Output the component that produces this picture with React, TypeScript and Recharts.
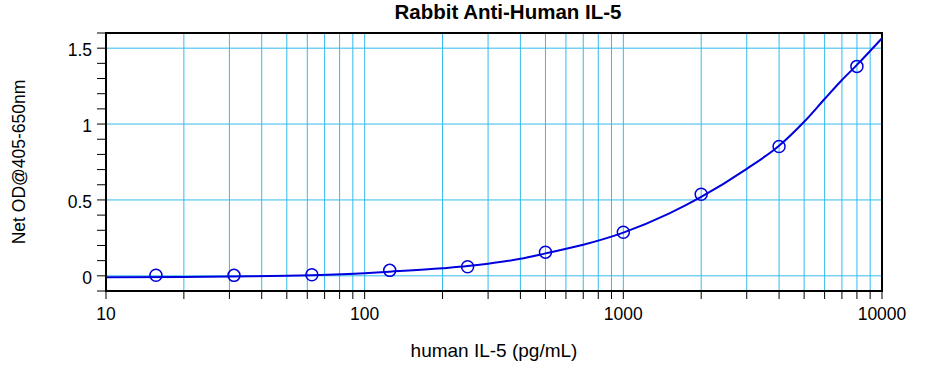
import React from 'react';
import {
  ComposedChart, Line, Scatter, XAxis, YAxis, CartesianGrid, ReferenceArea, Label,
} from 'recharts';

const title = 'Rabbit Anti-Human IL-5';
const xLabel = 'human IL-5 (pg/mL)';
const yLabel = 'Net OD@405-650nm';

const standardConc = [15.6, 31.25, 62.5, 125, 250, 500, 1000, 2000, 4000, 8000];
const standardOD = [0.004, 0.003, 0.007, 0.036, 0.06, 0.156, 0.287, 0.537, 0.852, 1.38];

const curveConc = [10, 20, 30, 50, 62.5, 100, 125, 200, 250, 300, 400, 500, 700, 1000, 1500, 2000, 3000, 4000, 5000, 6000, 7000, 8000, 10000];
const curveOD = [-0.01, -0.008, -0.005, 0.0, 0.004, 0.017, 0.027, 0.05, 0.064, 0.08, 0.112, 0.148, 0.205, 0.285, 0.41, 0.52, 0.705, 0.857, 1.015, 1.165, 1.29, 1.39, 1.566];

const xTicks = [10, 20, 30, 40, 50, 60, 70, 80, 90, 100, 200, 300, 400, 500, 600, 700, 800, 900, 1000, 2000, 3000, 4000, 5000, 6000, 7000, 8000, 9000, 10000];
const xMajor = [10, 100, 1000, 10000];
const yTicks = [-0.1, 0, 0.1, 0.2, 0.3, 0.4, 0.5, 0.6, 0.7, 0.8, 0.9, 1, 1.1, 1.2, 1.3, 1.4, 1.5, 1.6];
const yMajor = [0, 0.5, 1, 1.5];

const points = standardConc.map((x, i) => ({ x, y: standardOD[i] }));
const curve = curveConc.map((x, i) => ({ x, y: curveOD[i] }));

const GRID = '#33bbee';
const BLUE = '#0000dd';
const FONT = 'Liberation Sans, Arial, sans-serif';

const XTick = (props: any) => {
  const { x, y, payload } = props;
  if (!xMajor.includes(payload.value)) return null;
  return (
    <text x={x} y={y + 19} textAnchor="middle" fontSize={17.5} fontFamily={FONT} fill="#000">
      {payload.value}
    </text>
  );
};

const YTick = (props: any) => {
  const { x, y, payload } = props;
  const v = payload.value;
  if (!yMajor.some((m) => Math.abs(m - v) < 1e-6)) return null;
  return (
    <text x={x - 3} y={y + 8} textAnchor="end" fontSize={17.5} fontFamily={FONT} fill="#000">
      {String(v)}
    </text>
  );
};

export default function App() {
  return (
    <div style={{ position: 'absolute', left: 0, top: 0, width: 926, height: 366, background: '#fff' }}>
      <div style={{ position: 'absolute', left: 0, top: 0, width: 1016, textAlign: 'center', fontFamily: FONT, fontWeight: 'bold', fontSize: 20.5, lineHeight: '24px' }}>
        {title}
      </div>
      <ComposedChart width={926} height={366} margin={{ top: 33, right: 44, bottom: 0, left: 0 }}>
        <CartesianGrid stroke={GRID} strokeWidth={1} horizontal={false} yAxisId="major" />
        <CartesianGrid stroke={GRID} strokeWidth={1} vertical={false} yAxisId="major" />
        <XAxis
          dataKey="x"
          type="number"
          scale="log"
          domain={[10, 10000]}
          ticks={xTicks}
          allowDataOverflow
          interval={0}
          height={75}
          tickSize={8}
          tick={<XTick />}
          axisLine={{ stroke: '#000', strokeWidth: 2 }}
          tickLine={{ stroke: '#000', strokeWidth: 1 }}
        >
          <Label value={xLabel} position="insideBottom" offset={9} style={{ fontSize: 19, fontFamily: FONT, fill: '#000' }} />
        </XAxis>
        <YAxis
          yAxisId="main"
          type="number"
          domain={[-0.1, 1.6]}
          ticks={yTicks}
          interval={0}
          allowDataOverflow
          width={106}
          tickSize={9}
          tick={<YTick />}
          axisLine={{ stroke: '#000', strokeWidth: 2 }}
          tickLine={{ stroke: '#000', strokeWidth: 1 }}
        >
          <Label value={yLabel} angle={-90} position="insideLeft" offset={19} style={{ fontSize: 17.5, fontFamily: FONT, fill: '#000', textAnchor: 'middle' }} />
        </YAxis>
        <YAxis yAxisId="major" type="number" domain={[-0.1, 1.6]} ticks={yMajor} hide allowDataOverflow />
        <ReferenceArea yAxisId="main" x1={10} x2={10000} y1={-0.1} y2={1.6} fill="none" stroke="#000" strokeWidth={2} />
        <Line yAxisId="main" data={curve} dataKey="y" type="monotone" stroke={BLUE} strokeWidth={2} dot={false} isAnimationActive={false} />
        <Scatter
          yAxisId="main"
          data={points}
          dataKey="y"
          isAnimationActive={false}
          shape={(p: any) => <circle cx={p.cx} cy={p.cy} r={6} fill="none" stroke={BLUE} strokeWidth={1.5} />}
        />
      </ComposedChart>
    </div>
  );
}
